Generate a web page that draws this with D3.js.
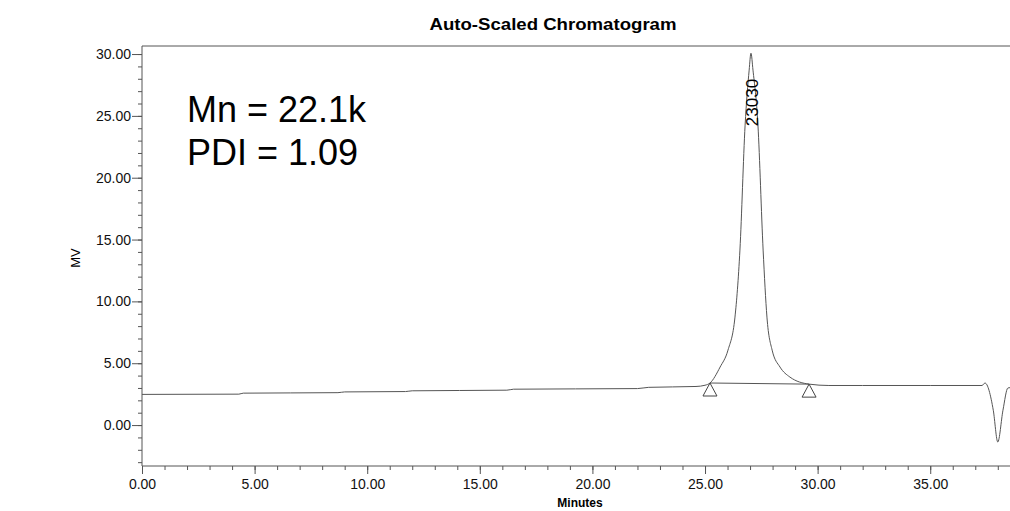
<!DOCTYPE html>
<html>
<head>
    <meta charset="UTF-8">
    <title>Auto-Scaled Chromatogram</title>
</head>
<style>
    body {
        margin: 0;
        padding: 0;
        background: white;
    }
    svg {
        display: block;
        font-family: "Liberation Sans", Arial, sans-serif;
    }
    .tick line {
        stroke: #555;
    }
    .tick text {
        font-size: 14px;
        fill: #111;
    }
</style>
<body>
<svg width="1010" height="511"></svg>
<script src="https://d3js.org/d3.v7.min.js"></script>
<script>
    // trace (minutes, mV)
    var traceMinutes = [0, 4.3, 4.5, 8.7, 9.0, 11.7, 12.0, 16.2, 16.5, 22.0, 22.5, 24.6, 25.0,
        25.22, 25.67, 26.02, 26.33, 26.55, 26.78, 26.96, 27.04, 27.13, 27.35, 27.58, 27.75, 27.98,
        28.33, 28.77, 29.62, 30.5, 32.0, 35.0, 37.3, 37.43, 37.8, 38.0, 38.23, 38.45, 38.7];
    var traceMV = [2.48, 2.50, 2.58, 2.62, 2.68, 2.71, 2.77, 2.82, 2.90, 2.95, 3.05, 3.12, 3.22,
        3.40, 4.69, 6.06, 8.73, 14.15, 24.25, 28.7, 30.07, 28.7, 24.25, 14.15, 8.73, 6.06,
        4.69, 3.88, 3.31, 3.20, 3.20, 3.20, 3.20, 3.40, 1.20, -1.37, 1.20, 3.00, 3.05];

    // integration start / end of the peak
    var markerMinutes = [25.22, 29.62];
    var markerMV = [3.40, 3.31];

    var peakLabel = "23030";
    var peakMinutes = 27.04;
    var peakMV = 30.07;

    var xMajor = [0, 5, 10, 15, 20, 25, 30, 35];
    var yMajor = [0, 5, 10, 15, 20, 25, 30];
    var notes = ["Mn = 22.1k", "PDI = 1.09"];

    var svg = d3.select("svg"),
        plotLeft = 142, plotTop = 46, plotBottom = 466;

    var x = d3.scaleLinear().domain([0, 38.6]).range([plotLeft, 1011.3]);
    var y = d3.scaleLinear().domain([-3.31, 30.65]).range([plotBottom, plotTop]);

    // frame (right side runs off the page)
    svg.append("path")
        .attr("d", "M1012," + plotTop + "H" + plotLeft + "V" + plotBottom + "H1012")
        .attr("fill", "none")
        .attr("stroke", "#555")
        .attr("stroke-width", 1);

    // y axis: major + minor
    svg.append("g")
        .attr("transform", "translate(" + plotLeft + ",0)")
        .call(d3.axisLeft(y).tickValues(d3.range(-3, 31)).tickFormat("").tickSize(4))
        .call(function (g) { g.select(".domain").remove(); });
    svg.append("g")
        .attr("transform", "translate(" + plotLeft + ",0)")
        .call(d3.axisLeft(y).tickValues(yMajor).tickFormat(d3.format(".2f")).tickSize(10).tickPadding(1))
        .call(function (g) { g.select(".domain").remove(); });

    // x axis: major + minor
    svg.append("g")
        .attr("transform", "translate(0," + plotBottom + ")")
        .call(d3.axisBottom(x).tickValues(d3.range(0, 39)).tickFormat("").tickSize(4))
        .call(function (g) { g.select(".domain").remove(); });
    svg.append("g")
        .attr("transform", "translate(0," + plotBottom + ")")
        .call(d3.axisBottom(x).tickValues(xMajor).tickFormat(d3.format(".2f")).tickSize(8).tickPadding(5))
        .call(function (g) { g.select(".domain").remove(); });

    // titles
    svg.append("text")
        .attr("x", 553).attr("y", 30)
        .attr("text-anchor", "middle")
        .attr("textLength", 247)
        .attr("lengthAdjust", "spacingAndGlyphs")
        .style("font-size", "17px")
        .style("font-weight", "bold")
        .text("Auto-Scaled Chromatogram");

    svg.append("text")
        .attr("x", 580).attr("y", 507)
        .attr("text-anchor", "middle")
        .style("font-size", "12px")
        .style("font-weight", "bold")
        .text("Minutes");

    svg.append("text")
        .attr("transform", "translate(80,258)rotate(-90)")
        .attr("text-anchor", "middle")
        .style("font-size", "13px")
        .text("MV");

    // trace
    var points = traceMinutes.map(function (t, i) { return [t, traceMV[i]]; });
    svg.append("path")
        .datum(points)
        .attr("fill", "none")
        .attr("stroke", "#555")
        .attr("stroke-width", 1)
        .attr("d", d3.line()
            .x(function (d) { return x(d[0]); })
            .y(function (d) { return y(d[1]); })
            .curve(d3.curveMonotoneX));

    // integration baseline
    svg.append("line")
        .attr("x1", x(markerMinutes[0])).attr("y1", y(markerMV[0]))
        .attr("x2", x(markerMinutes[1])).attr("y2", y(markerMV[1]))
        .attr("stroke", "#555");

    // start / end triangles
    svg.append("g")
        .selectAll("path")
        .data(markerMinutes)
        .enter().append("path")
        .attr("transform", function (d, i) {
            return "translate(" + x(d) + "," + y(markerMV[i]) + ")";
        })
        .attr("d", "M0,0L-7,13L7,13Z")
        .attr("fill", "none")
        .attr("stroke", "#444");

    // peak label
    svg.append("text")
        .attr("transform", "translate(" + (x(peakMinutes) + 7) + "," + (y(peakMV) + 73) + ")rotate(-90)")
        .style("font-size", "17px")
        .text(peakLabel);

    // Mn / PDI notes
    svg.append("g")
        .selectAll("text")
        .data(notes)
        .enter().append("text")
        .attr("x", 187)
        .attr("y", function (d, i) { return 122 + i * 43; })
        .style("font-size", "36px")
        .text(function (d) { return d; });
</script>
</body>
</html>
